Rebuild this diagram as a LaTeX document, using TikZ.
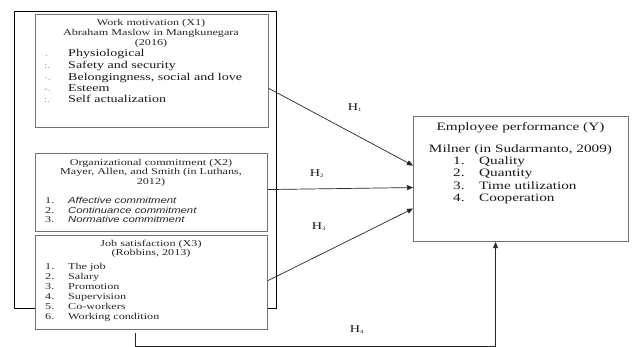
\documentclass[tikz,border=0pt]{standalone}
\usepackage{fontspec}
\setmainfont{Liberation Serif}[FakeStretch=1.35]
\newfontfamily\itsans{Liberation Sans}[FakeStretch=1.3]
\usetikzlibrary{arrows.meta}
\begin{document}
\begin{tikzpicture}[x=1pt,y=-1pt,
  box/.style={draw=black!55, line width=1.1pt, inner sep=0, anchor=north west},
  ttl/.style={inner sep=0, anchor=mid, text=black!85, font=\fontsize{9}{10}\selectfont},
  itA/.style={inner sep=0, anchor=mid west, text=black!90, font=\fontsize{10.4}{12}\selectfont},
  mk/.style={inner sep=0, anchor=mid west, text=black!50, font=\fontsize{8}{9}\selectfont},
  itB/.style={inner sep=0, anchor=mid west, text=black!85, font=\itsans\itshape\fontsize{8.7}{10}\selectfont},
  itC/.style={inner sep=0, anchor=mid west, text=black!85, font=\fontsize{9}{10}\selectfont},
  ttY/.style={inner sep=0, anchor=mid, text=black!90, font=\fontsize{11.3}{13}\selectfont},
  itY/.style={inner sep=0, anchor=mid west, text=black!90, font=\fontsize{11.3}{13}\selectfont},
  hl/.style={inner sep=0, anchor=mid, text=black!90, font=\fontsize{10.5}{12}\selectfont},
  arr/.style={draw=black!85, line width=0.7pt, -{Triangle[length=6pt,width=5pt]}}
]
\useasboundingbox (0,0) rectangle (633,347);
\fill[white] (0,0) rectangle (633,347);

% boxes
\node[draw=black, line width=1.3pt, inner sep=0, anchor=north west, minimum width=262pt, minimum height=297pt] (outer) at (14,11) {};
\node[box, minimum width=233pt, minimum height=113pt] (x1) at (35,14) {};
\node[box, minimum width=232pt, minimum height=78pt] (x2) at (35,153) {};
\node[box, fill=white, minimum width=232pt, minimum height=94pt] (x3) at (35,235) {};
\node[box, minimum width=215pt, minimum height=125pt] (y) at (413,116) {};

% X1 text
\node[ttl] (x1t1) at (151,23) {Work motivation (X1)};
\node[ttl] (x1t2) at (151,33) {Abraham Maslow in Mangkunegara};
\node[ttl] (x1t3) at (151,43) {(2016)};
\node[mk] (x1m1) at (45,54) {.};
\node[mk] (x1m2) at (44,66) {:.};
\node[mk] (x1m3) at (44,78) {·.};
\node[mk] (x1m4) at (44,89) {-.};
\node[mk] (x1m5) at (44,100) {:.};
\node[itA] (x1i1) at (68,54) {Physiological};
\node[itA] (x1i2) at (68,66) {Safety and security};
\node[itA] (x1i3) at (68,78) {Belongingness, social and love};
\node[itA] (x1i4) at (68,89) {Esteem};
\node[itA] (x1i5) at (68,100) {Self actualization};

% X2 text
\node[ttl] (x2t1) at (151,163) {Organizational commitment (X2)};
\node[ttl] (x2t2) at (151,172.5) {Mayer, Allen, and Smith (in Luthans,};
\node[ttl] (x2t3) at (151,182.5) {2012)};
\node[itC] (x2n1) at (45,201.5) {1.};
\node[itC] (x2n2) at (45,211) {2.};
\node[itC] (x2n3) at (45,220.5) {3.};
\node[itB] (x2i1) at (68,201.5) {Affective commitment};
\node[itB] (x2i2) at (68,211) {Continuance commitment};
\node[itB] (x2i3) at (68,220.5) {Normative commitment};

% X3 text
\node[ttl] (x3t1) at (151,244) {Job satisfaction (X3)};
\node[ttl] (x3t2) at (151,253.5) {(Robbins, 2013)};
\node[itC] (x3n1) at (45,267) {1.};
\node[itC] (x3n2) at (45,277) {2.};
\node[itC] (x3n3) at (45,287) {3.};
\node[itC] (x3n4) at (45,297) {4.};
\node[itC] (x3n5) at (45,307) {5.};
\node[itC] (x3n6) at (45,317) {6.};
\node[itC] (x3i1) at (68,267) {The job};
\node[itC] (x3i2) at (68,277) {Salary};
\node[itC] (x3i3) at (68,287) {Promotion};
\node[itC] (x3i4) at (68,297) {Supervision};
\node[itC] (x3i5) at (68,307) {Co-workers};
\node[itC] (x3i6) at (68,317) {Working condition};

% Y text
\node[ttY] (yt1) at (520.5,128) {Employee performance (Y)};
\node[ttY] (yt2) at (520.5,150) {Milner (in Sudarmanto, 2009)};
\node[itY] (yn1) at (453,162) {1.};
\node[itY] (yn2) at (453,174.5) {2.};
\node[itY] (yn3) at (453,187) {3.};
\node[itY] (yn4) at (453,199.5) {4.};
\node[itY] (yi1) at (479,162) {Quality};
\node[itY] (yi2) at (479,174.5) {Quantity};
\node[itY] (yi3) at (479,187) {Time utilization};
\node[itY] (yi4) at (479,199.5) {Cooperation};

% connectors
\draw[arr] ([yshift=-17.5pt]x1.east) -- ([yshift=13.5pt]y.west);
\draw[arr] ([yshift=3pt]x2.east) -- ([yshift=-8.5pt]y.west);
\draw[arr] ([yshift=2pt]x3.east) -- ([yshift=-29.5pt]y.west);
\coordinate (h4a) at ([xshift=-16pt,yshift=-3pt]x3.south);
\draw[arr] (h4a) -- ++(0,13) -| ([xshift=-25.5pt]y.south);

% labels
\node[hl] (h1) at (355,108) {H\textsubscript{\tiny 1}};
\node[hl] (h2) at (317,174) {H\textsubscript{\tiny 2}};
\node[hl] (h3) at (319,227) {H\textsubscript{\tiny 3}};
\node[hl] (h4) at (357,330) {H\textsubscript{\tiny 4}};
\end{tikzpicture}
\end{document}
